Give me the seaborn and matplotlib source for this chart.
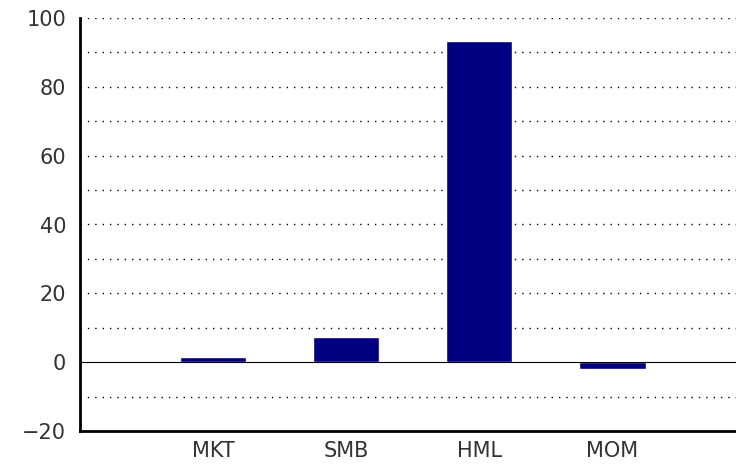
import numpy as np
import pandas as pd
import matplotlib
matplotlib.use("Agg")
import matplotlib.pyplot as plt
import seaborn as sns

factors = ["MKT", "SMB", "HML", "MOM"]
loadings = [1.5, 7.4, 93.4, -2.0]
y_ticks = [-20, 0, 20, 40, 60, 80, 100]

df = pd.DataFrame({"factor": factors, "value": loadings})

sns.set_style("white")
plt.rcParams["font.family"] = ["DejaVu Sans"]

fig = plt.figure(figsize=(7.36, 4.65), dpi=100)
ax = fig.add_axes([80 / 736, 34 / 465, 656 / 736, 413 / 465])

# dotted grid every 10, drawn under the bars
for yv in np.arange(-10, 101, 10):
    if yv == 0:
        continue
    ax.axhline(yv, color="black", linestyle=(0, (1, 4.3)), linewidth=1.0, zorder=0)

sns.barplot(data=df, x="factor", y="value", color="#000080", width=0.5,
            saturation=1, ax=ax, zorder=2)
ax.axhline(0, color="black", linewidth=0.8, zorder=3)

ax.set_xlim(-1, 3.93)
ax.set_ylim(-20, 100)
ax.set_yticks(y_ticks)
ax.set_yticklabels([str(t).replace("-", "\u2212") for t in y_ticks])
ax.set_yticks(np.arange(-10, 100, 20), minor=True)
ax.set_xlabel("")
ax.set_ylabel("")

ax.tick_params(axis="y", direction="in", length=4, width=1, labelsize=15, pad=10, colors="black")
ax.tick_params(axis="y", which="minor", direction="in", length=4, width=1)
ax.tick_params(axis="x", length=0, labelsize=15, pad=7)
for lab in ax.get_xticklabels() + ax.get_yticklabels():
    lab.set_color("#333333")

sns.despine(ax=ax)
for side in ["left", "bottom"]:
    ax.spines[side].set_linewidth(2)
    ax.spines[side].set_color("black")

fig.savefig("out.png", dpi=100)
